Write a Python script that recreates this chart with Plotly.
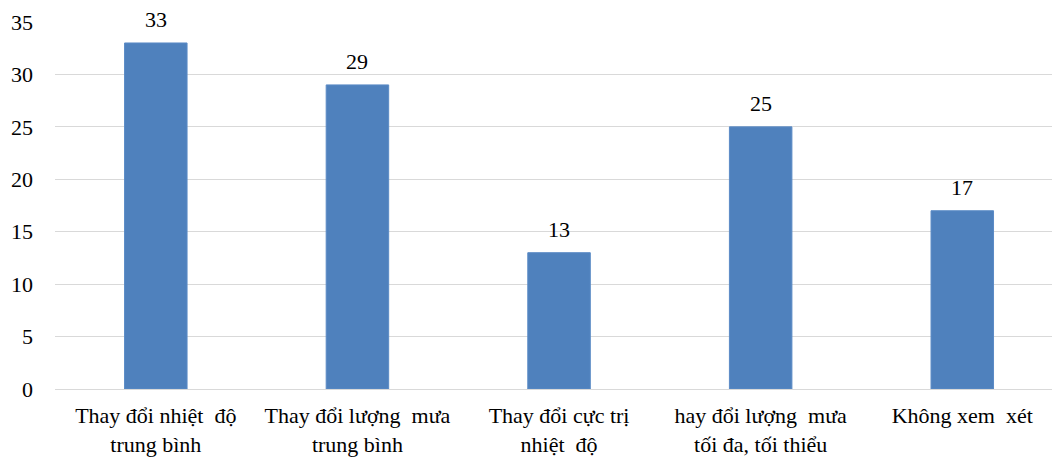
import plotly.graph_objects as go

categories = [
    "Thay đổi nhiệt  độ<br>trung bình",
    "Thay đổi lượng  mưa<br>trung bình",
    "Thay đổi cực trị<br>nhiệt  độ",
    "hay đổi lượng  mưa<br>tối đa, tối thiểu",
    "Không xem  xét",
]
values = [33, 29, 13, 25, 17]
y_ticks = [0, 5, 10, 15, 20, 25, 30, 35]

FONT = "Liberation Serif, Times New Roman, serif"
SIZE = 22

fig = go.Figure(
    go.Bar(
        x=categories,
        y=values,
        width=0.31,
        marker=dict(color="#4F81BD", line=dict(color="#5B8BC6", width=1)),
        hoverinfo="x+y",
    )
)

# value labels above each bar
for cat, val in zip(categories, values):
    fig.add_annotation(
        x=cat,
        y=val,
        text=str(val),
        showarrow=False,
        yanchor="bottom",
        yshift=9,
        font=dict(family=FONT, size=SIZE, color="#000000"),
    )

fig.update_layout(
    width=1053,
    height=458,
    margin=dict(l=55, r=1, t=22, b=69),
    paper_bgcolor="white",
    plot_bgcolor="white",
    showlegend=False,
    font=dict(family=FONT, size=SIZE, color="#000000"),
)

fig.update_xaxes(
    type="category",
    range=[-0.5, 4.445],
    showgrid=False,
    showline=True,
    linecolor="#D9D9D9",
    linewidth=1,
    ticks="",
    ticklabelstandoff=7,
    tickfont=dict(family=FONT, size=SIZE, color="#000000"),
)

fig.update_yaxes(
    range=[0, 35],
    tickvals=y_ticks,
    showgrid=True,
    gridcolor="#D9D9D9",
    gridwidth=1,
    zeroline=False,
    showline=False,
    ticks="",
    ticklabelstandoff=21,
    tickfont=dict(family=FONT, size=SIZE, color="#000000"),
)

fig.write_html("out.html")
